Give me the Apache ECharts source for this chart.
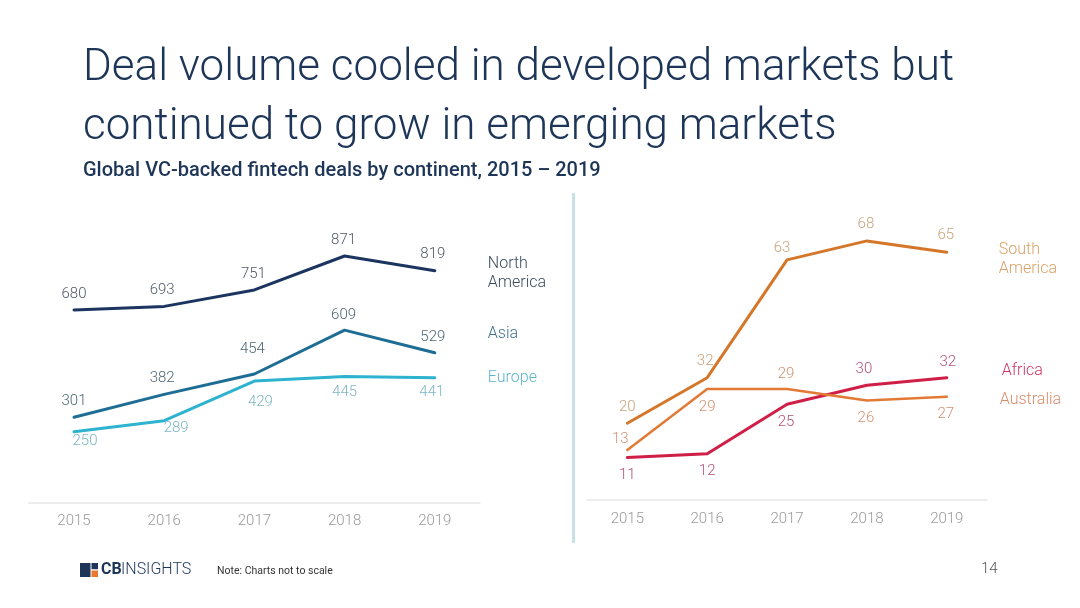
<!DOCTYPE html>
<html><head><meta charset="utf-8">
<script src="https://cdn.jsdelivr.net/npm/echarts@6/dist/echarts.min.js"></script>
<style>html,body{margin:0;padding:0;background:#fff}#c{width:1080px;height:608px}</style>
</head><body><div id="c"></div>
<script>
// ---- data ----
const years = ['2015', '2016', '2017', '2018', '2019'];
const northAmerica = [680, 693, 751, 871, 819];
const asia = [301, 382, 454, 609, 529];
const europe = [250, 289, 429, 445, 441];
const southAmerica = [20, 32, 63, 68, 65];
const africa = [11, 12, 25, 30, 32];
const australia = [13, 29, 29, 26, 27];
const leftNames = ['North\nAmerica', 'Asia', 'Europe'];
const rightNames = ['South\nAmerica', 'Africa', 'Australia'];

// ---- label placement (style only) ----
const offNA = [[0, -16], [-2, -16], [-1, -16], [-1, -16], [-2, -16]];
const offAsia = [[0, -16], [-2, -16], [-2, -25], [-1, -15], [-2, -16]];
const offEurope = [[11, 9], [12, 8], [6, 21], [0, 16], [-3, 15]];
const offSA = [[0, -16], [-2, -16], [-5, -12], [-1, -17], [-1, -17]];
const offAfrica = [[0, 18], [0, 18], [-1, 18], [-3, -16], [1, -15]];
const offAustralia = [[-7, -11], [0, 18], [-1, -15], [-1, 18], [-1, 18]];

const FONT = 'Roboto';

function mk(name, data, axis, color, width, labelColor, offs, nameColor, nameOff, nameDist) {
  return {
    type: 'line', name: name.replace('\n', ' '),
    xAxisIndex: axis, yAxisIndex: axis,
    data: data.map((v, i) => ({ value: v, label: { offset: offs[i] } })),
    symbol: 'circle', symbolSize: 1, showSymbol: true,
    itemStyle: { color: color },
    lineStyle: { color: color, width: width, cap: 'round', join: 'round' },
    label: { show: true, position: 'inside', color: labelColor, fontSize: 15, fontFamily: FONT, fontWeight: 300 },
    endLabel: {
      show: true, formatter: name, color: nameColor, fontSize: 16, fontFamily: FONT, fontWeight: 300,
      lineHeight: 19, distance: nameDist, offset: nameOff, align: 'left'
    },
    emphasis: { disabled: true },
    silent: true, z: 3
  };
}

const xAxisBase = {
  type: 'category', data: years, boundaryGap: true,
  axisLine: { show: true, lineStyle: { color: '#e6e6e6', width: 1.5 } },
  axisTick: { show: false },
  axisLabel: { color: '#9a9a9a', fontSize: 15, fontFamily: FONT, fontWeight: 300, margin: 11 },
  splitLine: { show: false }
};

const chart = echarts.init(document.getElementById('c'), null, { renderer: 'canvas' });
chart.setOption({
  animation: false,
  backgroundColor: '#ffffff',
  grid: [
    { left: 28.9, width: 451, top: 219.5, height: 283 },
    { left: 587.4, width: 399.3, top: 195.3, height: 304 }
  ],
  xAxis: [
    Object.assign({ gridIndex: 0 }, xAxisBase),
    Object.assign({ gridIndex: 1 }, xAxisBase, { axisLabel: Object.assign({}, xAxisBase.axisLabel, { margin: 12 }) })
  ],
  yAxis: [
    { type: 'value', gridIndex: 0, min: 0, max: 1000, show: false, splitLine: { show: false } },
    { type: 'value', gridIndex: 1, min: 0, max: 80, show: false, splitLine: { show: false } }
  ],
  series: [
    mk(leftNames[0], northAmerica, 0, '#1b3560', 3, '#4f5864', offNA, '#3b4a5c', [0, 3], 53),
    mk(leftNames[1], asia, 0, '#1d6d95', 3, '#4d6575', offAsia, '#3e6f8c', [0, -19], 53),
    mk(leftNames[2], europe, 0, '#2db3cf', 3, '#7db6c6', offEurope, '#5db5ca', [0, 0], 53),
    mk(rightNames[0], southAmerica, 1, '#d4772b', 3, '#c9a27a', offSA, '#d9a166', [0, 7], 52),
    mk(rightNames[1], africa, 1, '#cf1f47', 3, '#b1527a', offAfrica, '#cc3464', [0, -7], 55),
    mk(rightNames[2], australia, 1, '#e27a35', 2.5, '#d29270', offAustralia, '#d98b6a', [0, 3], 53)
  ],
  graphic: [
    { type: 'text', left: 83, top: 47, silent: true,
      style: { text: 'Deal volume cooled in developed markets but', font: '300 44px Roboto', fill: '#1d3557' } },
    { type: 'text', left: 83, top: 105.5, silent: true,
      style: { text: 'continued to grow in emerging markets', font: '300 44px Roboto', fill: '#1d3557' } },
    { type: 'text', left: 83, top: 161, silent: true,
      style: { text: 'Global VC-backed fintech deals by continent, 2015 \u2013 2019', font: '500 20px Roboto', fill: '#1d3557' } },
    { type: 'line', silent: true, shape: { x1: 573.5, y1: 193, x2: 573.5, y2: 543 },
      style: { stroke: '#c6e1ea', lineWidth: 3 } },
    { type: 'rect', silent: true, shape: { x: 80, y: 563, width: 10.5, height: 14 }, style: { fill: '#1d3557' } },
    { type: 'rect', silent: true, shape: { x: 91.5, y: 563, width: 6.5, height: 6.2 }, style: { fill: '#1d3557' } },
    { type: 'rect', silent: true, shape: { x: 91.5, y: 570.5, width: 6.5, height: 6.5 }, style: { fill: '#e8782d' } },
    { type: 'text', left: 101, top: 562, silent: true,
      style: { text: 'CB', font: 'bold 16px Roboto', fill: '#1d3557' } },
    { type: 'text', left: 121, top: 562, silent: true,
      style: { text: 'INSIGHTS', font: '300 16px Roboto', fill: '#1d3557' } },
    { type: 'text', left: 217, top: 566, silent: true,
      style: { text: 'Note: Charts not to scale', font: '400 10.5px Roboto', fill: '#333333' } },
    { type: 'text', left: 981, top: 562, silent: true,
      style: { text: '14', font: '300 15px Roboto', fill: '#555555' } }
  ]
});
</script></body></html>
